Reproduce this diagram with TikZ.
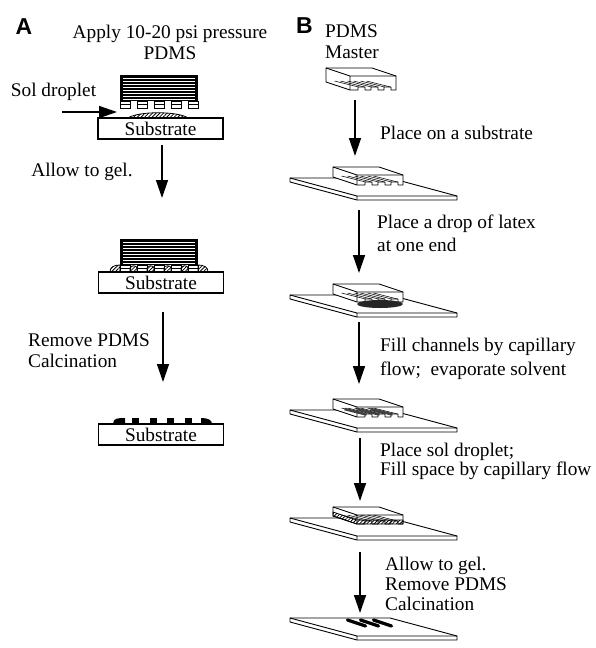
\documentclass[tikz,border=0pt]{standalone}
\usepackage{fontspec}
\setmainfont{Liberation Serif}
\newfontfamily\panelfont{Liberation Sans}
\usepackage{tikz}
\usetikzlibrary{arrows.meta,positioning,patterns.meta}

\begin{document}
\begin{tikzpicture}
    [x=1pt,y=-1pt,>={Triangle[length=18pt,width=12pt]},
    txt/.style={font=\fontsize{19.3}{21}\selectfont,inner sep=0pt,align=left},
    panel/.style={font=\panelfont\bfseries\fontsize{23}{25}\selectfont,inner sep=0pt},
    substrate/.style={draw,line width=1.2pt,fill=white,minimum width=125pt,minimum height=21pt,
      inner sep=0pt,font=\fontsize{19.3}{21}\selectfont},
    gel/.style={draw,line width=0.8pt,pattern={Lines[angle=45,distance=2.6pt,line width=0.8pt]}},
    flow/.style={->,line width=1.4pt},
    thin/.style={line width=0.9pt,line join=round}]

    \useasboundingbox (0,0) rectangle (596,648);

    % ---------- A ----------
    \node[panel] (labA) at (24,27) {A};
    \node[txt,align=center] (applyA) at (170,42) {Apply 10-20 psi pressure\\PDMS};

    \foreach \y in {75,239} {
      \fill (120,\y) rectangle (198,\y+26);
      \foreach \k in {3,6,...,24}
        \draw[white,line width=0.7pt] (123,\y+\k) -- (195,\y+\k);
      \foreach \x in {120,137,...,188} {
        \draw[fill=white,line width=1pt] (\x,\y+26) rectangle +(10,7);
        \draw[line width=1pt] (\x,\y+29.5) -- +(10,0);
      }
    }

    \draw[gel] (128,118) .. controls (138,111) and (178,111) .. (188,118) -- cycle;
    \node[substrate] (subA1) at (160.5,128.5) {Substrate};
    \node[txt] (solA) at (53.5,92) {Sol droplet};
    \coordinate (solS) at (62,112);
    \coordinate (solE) at (117,112);

    \node[txt] (gelA) at (82,172) {Allow to gel.};
    \coordinate (a1s) at (162,145);
    \coordinate (a1e) at (162,198);

    \foreach \x in {130,147,164,181}
      \draw[gel] (\x,272) -- (\x,268) .. controls (\x,265) and (\x+7,265) .. (\x+7,268) -- (\x+7,272);
    \draw[gel] (120,272) -- (110,272) .. controls (110,267) and (114,265) .. (120,265) -- cycle;
    \draw[gel] (198,272) -- (208,272) .. controls (208,267) and (204,265) .. (198,265) -- cycle;
    \node[substrate] (subA2) at (161,282.5) {Substrate};

    \node[txt] (calcA) at (89,351) {Remove PDMS\\Calcination};
    \coordinate (a2s) at (163,312);
    \coordinate (a2e) at (163,382);

    \fill (113,424) .. controls (113,418) and (118,418) .. (125,418) -- (125,424) -- cycle;
    \foreach \x in {132,149.5,167,184.5}
      \fill (\x,424) rectangle +(7,-6);
    \fill (201,424) -- (201,418) .. controls (208,418) and (212,420) .. (212,424) -- cycle;
    \node[substrate] (subA3) at (161,434.5) {Substrate};

    % ---------- B ----------
    \node[panel] (labB) at (304.5,25.5) {B};
    \node[txt,anchor=west] (mastB) at (325,41.5) {PDMS\\Master};

    % plates
    \foreach \py in {178,295,410,518,618} {
      \begin{scope}[shift={(290,\py)}]
        \draw[thin,fill=white] (0,0) -- (100,0) -- (167,18) -- (167,22) -- (67,22) -- (0,4) -- cycle;
        \draw[thin] (0,0) -- (67,18) -- (167,18) (67,18) -- (67,22);
      \end{scope}
    }

    % stamps
    \foreach \sx/\sy/\h in {326/68/14,333/167/10,333/284/10,333/399/10,333/507/9} {
      \begin{scope}[shift={(\sx,\sy)}]
        \draw[thin,fill=white] (0,0) -- (46,0) -- (70,8) -- (70,8+\h)
          -- (65,8+\h) -- (65,5+\h) -- (58,5+\h) -- (58,8+\h)
          -- (52,8+\h) -- (52,5+\h) -- (45,5+\h) -- (45,8+\h)
          -- (39,8+\h) -- (39,5+\h) -- (32,5+\h) -- (32,8+\h)
          -- (24,8+\h) -- (0,\h) -- cycle;
        \draw[thin] (0,0) -- (24,8) -- (70,8) (24,8) -- (24,8+\h);
        \foreach \cx in {11.5,24.5,37.5} {
          \draw[line width=0.5pt] (\cx-3,\h-1) -- (\cx+21,\h+5);
          \draw[line width=0.5pt] (\cx+3,\h-1) -- (\cx+27,\h+5);
        }
      \end{scope}
    }

    % latex drop
    \fill[black!85] (380,304) ellipse [x radius=23pt,y radius=4pt];
    % filled channels
    \foreach \cx in {11.5,24.5,37.5}
      \draw[line width=2.6pt,black!75] (333+\cx,399+10) -- (333+\cx+22,399+15.5);
    % sol under stamp
    \draw[gel] (333,507+5) -- (357,515+5) -- (403,515+5) -- (403,515+9) -- (357,515+9) -- (333,507+9) -- cycle;
    % final lines
    \foreach \cx in {11.5,24.5,37.5}
      \draw[line width=3.2pt,line cap=round] (336+\cx,620) -- (354+\cx,626);

    \node[txt,anchor=west] (stepB1) at (380,133) {Place on a substrate};
    \node[txt,anchor=west,font=\fontsize{19.3}{23}\selectfont] (stepB2) at (377,233.5) {Place a drop of latex\\at one end};
    \node[txt,anchor=west,font=\fontsize{19.3}{24}\selectfont] (stepB3) at (380,359) {Fill channels by capillary\\flow;\ \ evaporate solvent};
    \node[txt,anchor=west,font=\fontsize{19.3}{18.5}\selectfont] (stepB4) at (380,461.5) {Place sol droplet;\\Fill space by capillary flow};
    \node[txt,anchor=west,font=\fontsize{19.3}{20}\selectfont] (stepB5) at (385,584) {Allow to gel.\\Remove PDMS\\Calcination};

    \coordinate (b1s) at (355,100);
    \coordinate (b1e) at (355,156);
    \coordinate (b2s) at (359,210);
    \coordinate (b2e) at (359,273);
    \coordinate (b3s) at (359,322);
    \coordinate (b3e) at (359,384);
    \coordinate (b4s) at (360,438);
    \coordinate (b4e) at (360,501);
    \coordinate (b5s) at (360,552);
    \coordinate (b5e) at (360,613);

    \path
    (solS) edge [flow] (solE)
    (a1s) edge [flow] (a1e)
    (a2s) edge [flow] (a2e)
    (b1s) edge [flow] (b1e)
    (b2s) edge [flow] (b2e)
    (b3s) edge [flow] (b3e)
    (b4s) edge [flow] (b4e)
    (b5s) edge [flow] (b5e)
    ;

\end{tikzpicture}
\end{document}
